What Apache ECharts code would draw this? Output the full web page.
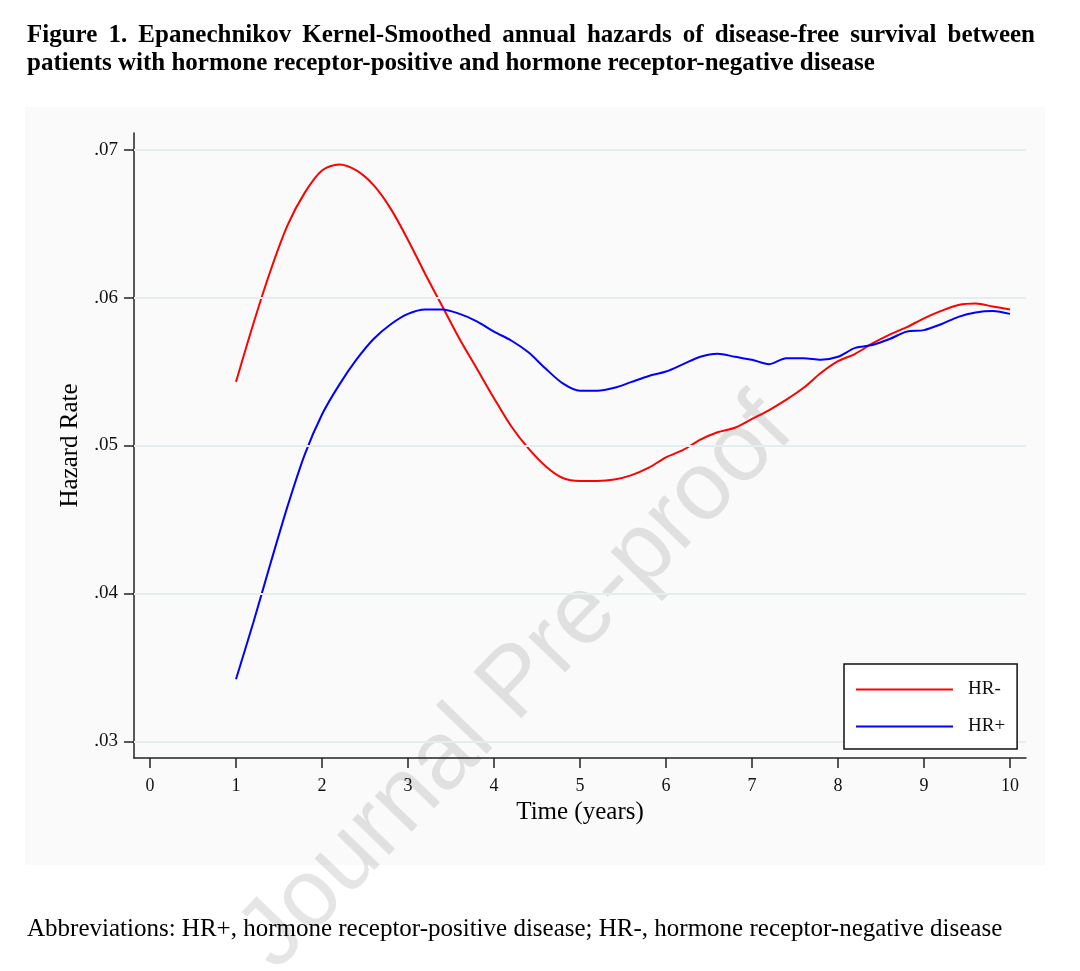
<!DOCTYPE html>
<html>
<head>
<meta charset="utf-8">
<script src="https://cdn.jsdelivr.net/npm/echarts@6/dist/echarts.min.js"></script>
<style>
html, body { margin: 0; padding: 0; background: #fff; }
#wrap { position: relative; width: 1080px; height: 971px; overflow: hidden; }
#chart { position: absolute; left: 0; top: 0; width: 1080px; height: 971px; }
.txt { position: absolute; font-family: "Liberation Serif", "Times New Roman", serif; color: #000; white-space: nowrap; }
#t1 { left: 27px; top: 20px; width: 1008px; font-size: 25px; line-height: 28px; font-weight: bold; text-align: justify; text-align-last: justify; }
#t2 { left: 27px; top: 48px; font-size: 25px; line-height: 28px; font-weight: bold; }
#note { left: 27px; top: 914px; font-size: 25px; line-height: 28px; }
</style>
</head>
<body>
<div id="wrap">
  <div id="chart"></div>
  <div class="txt" id="t1">Figure 1. Epanechnikov Kernel-Smoothed annual hazards of disease-free survival between</div>
  <div class="txt" id="t2">patients with hormone receptor-positive and hormone receptor-negative disease</div>
  <div class="txt" id="note">Abbreviations: HR+, hormone receptor-positive disease; HR-, hormone receptor-negative disease</div>
</div>
<script>
/* data */
var years = [1.0, 1.2, 1.4, 1.6, 1.8, 2.0, 2.2, 2.4, 2.6, 2.8,
             3.0, 3.2, 3.4, 3.6, 3.8, 4.0, 4.2, 4.4, 4.6, 4.8,
             5.0, 5.2, 5.4, 5.6, 5.8, 6.0, 6.2, 6.4, 6.6, 6.8,
             7.0, 7.2, 7.4, 7.6, 7.8, 8.0, 8.2, 8.4, 8.6, 8.8,
             9.0, 9.2, 9.4, 9.6, 9.8, 10.0];

var hazardNeg = [0.0543, 0.0582, 0.0618, 0.0649, 0.0671, 0.0686, 0.0690, 0.0686, 0.0676, 0.0660,
                 0.0639, 0.0616, 0.0594, 0.0572, 0.0552, 0.0532, 0.0513, 0.0498, 0.0486, 0.0478,
                 0.0476, 0.0476, 0.0477, 0.0480, 0.0485, 0.0492, 0.0497, 0.0504, 0.0509, 0.0512,
                 0.0518, 0.0524, 0.0531, 0.0539, 0.0549, 0.0557, 0.0562, 0.0569, 0.0575, 0.0580,
                 0.0586, 0.0591, 0.0595, 0.0596, 0.0594, 0.0592];

var hazardPos = [0.0342, 0.0380, 0.0420, 0.0459, 0.0494, 0.0521, 0.0541, 0.0558, 0.0572, 0.0582,
                 0.0589, 0.0592, 0.0592, 0.0589, 0.0584, 0.0577, 0.0571, 0.0563, 0.0552, 0.0542,
                 0.0537, 0.0537, 0.0539, 0.0543, 0.0547, 0.0550, 0.0555, 0.0560, 0.0562, 0.0560,
                 0.0558, 0.0555, 0.0559, 0.0559, 0.0558, 0.0560, 0.0566, 0.0568, 0.0572, 0.0577,
                 0.0578, 0.0582, 0.0587, 0.0590, 0.0591, 0.0589];

var xTicks = [0, 1, 2, 3, 4, 5, 6, 7, 8, 9, 10];
var yTicks = [0.03, 0.04, 0.05, 0.06, 0.07];
var seriesNames = ['HR-', 'HR+'];

function pairs(xs, ys) {
    var out = [];
    for (var i = 0; i < xs.length; i++) out.push([xs[i], ys[i]]);
    return out;
}

var serif = 'Liberation Serif';

var option = {
    backgroundColor: '#fff',
    animation: false,
    grid: {
        left: 134,
        right: 54,
        top: 133,
        bottom: 213
    },
    graphic: [{
        type: 'rect',
        z: -10,
        silent: true,
        shape: { x: 25, y: 107, width: 1020, height: 758 },
        style: { fill: '#fafafa' }
    }, {
        type: 'text',
        z: 0,
        silent: true,
        x: 517,
        y: 684,
        rotation: Math.PI * 46 / 180,
        style: {
            text: 'Journal Pre-proof',
            font: '97px "Liberation Sans", Arial, sans-serif',
            fill: 'rgba(0,0,0,0.1)',
            align: 'center',
            verticalAlign: 'middle'
        }
    }],
    legend: {
        data: seriesNames,
        z: 20,
        orient: 'vertical',
        left: 844,
        top: 664,
        align: 'left',
        icon: 'rect',
        padding: [16, 12, 13, 12],
        itemGap: 18,
        itemWidth: 97,
        itemHeight: 2,
        borderColor: '#111',
        borderWidth: 1.5,
        backgroundColor: '#fff',
        textStyle: {
            fontFamily: serif,
            fontSize: 19,
            color: '#111',
            padding: [0, 0, 0, 10]
        }
    },
    xAxis: {
        type: 'value',
        min: -0.186,
        max: 10.186,
        name: 'Time (years)',
        nameLocation: 'middle',
        nameGap: 37,
        nameTextStyle: { fontFamily: serif, fontSize: 25, color: '#000' },
        axisLine: { show: true, onZero: false, lineStyle: { color: '#222', width: 1.5 } },
        axisTick: { show: true, length: 10, customValues: xTicks, lineStyle: { color: '#222', width: 1.5 } },
        axisLabel: { customValues: xTicks, margin: 19, fontFamily: serif, fontSize: 18, color: '#111' },
        splitLine: { show: false }
    },
    yAxis: {
        type: 'value',
        min: 0.02887,
        max: 0.07113,
        name: 'Hazard Rate',
        nameLocation: 'middle',
        nameGap: 51,
        nameTextStyle: { fontFamily: serif, fontSize: 25, color: '#000' },
        axisLine: { show: true, onZero: false, lineStyle: { color: '#222', width: 1.5 } },
        axisTick: { show: true, length: 10, customValues: yTicks, lineStyle: { color: '#222', width: 1.5 } },
        axisLabel: {
            customValues: yTicks,
            margin: 16,
            fontFamily: serif,
            fontSize: 19,
            color: '#111',
            formatter: function (v) { return v.toFixed(2).replace(/^0/, ''); }
        },
        splitLine: { show: false }
    },
    series: [{
        name: 'grid',
        type: 'line',
        data: [],
        z: 1,
        silent: true,
        markLine: {
            silent: true,
            symbol: 'none',
            label: { show: false },
            lineStyle: { color: '#e6edf1', width: 2, type: 'solid' },
            data: yTicks.map(function (v) { return { yAxis: v }; })
        }
    }, {
        name: seriesNames[0],
        type: 'line',
        z: 3,
        data: pairs(years, hazardNeg),
        symbol: 'none',
        smooth: 0.3,
        color: '#ff0000',
        lineStyle: { color: '#ff0000', width: 2 }
    }, {
        name: seriesNames[1],
        type: 'line',
        z: 3,
        data: pairs(years, hazardPos),
        symbol: 'none',
        smooth: 0.3,
        color: '#0000ff',
        lineStyle: { color: '#0000ff', width: 2 }
    }]
};

var chart = echarts.init(document.getElementById('chart'));
chart.setOption(option);
</script>
</body>
</html>
